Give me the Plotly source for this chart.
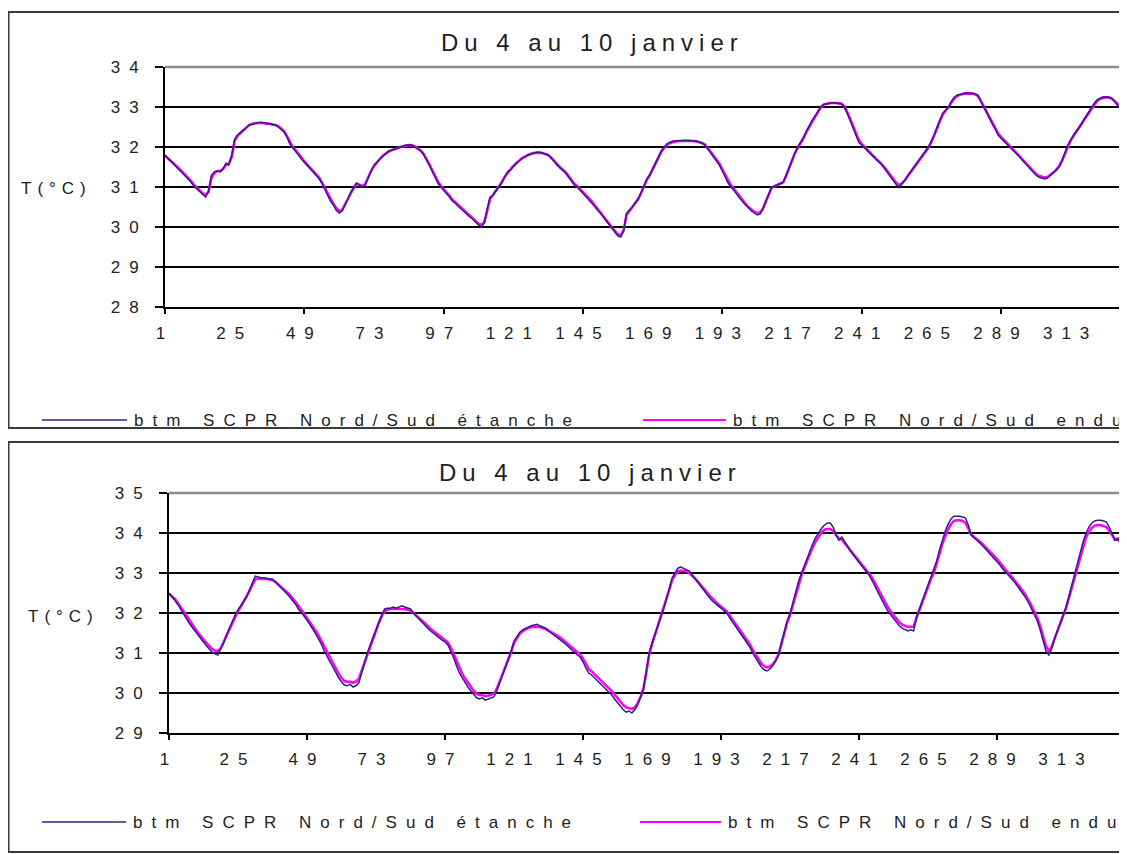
import plotly.graph_objects as go

# ---------------------------------------
# DATA
# ---------------------------------------
top_etanche = [
    31.80, 31.72, 31.65, 31.58, 31.50, 31.42, 31.35, 31.28, 31.20, 31.12,
    31.02, 30.95, 30.88, 30.80, 30.75, 30.90, 31.30, 31.38, 31.40, 31.38,
    31.45, 31.60, 31.55, 31.80, 32.20, 32.30, 32.35, 32.42, 32.48, 32.55,
    32.56, 32.58, 32.60, 32.62, 32.60, 32.60, 32.58, 32.56, 32.55, 32.50,
    32.45, 32.38, 32.25, 32.08, 31.98, 31.90, 31.80, 31.70, 31.62, 31.55,
    31.45, 31.38, 31.30, 31.22, 31.10, 30.95, 30.80, 30.65, 30.55, 30.42,
    30.35, 30.40, 30.55, 30.70, 30.85, 31.00, 31.10, 31.05, 31.00, 31.05,
    31.25, 31.40, 31.55, 31.62, 31.70, 31.78, 31.85, 31.90, 31.92, 31.95,
    31.98, 32.00, 32.02, 32.05, 32.05, 32.05, 32.00, 31.95, 31.90, 31.82,
    31.70, 31.55, 31.40, 31.25, 31.10, 31.00, 30.92, 30.85, 30.75, 30.65,
    30.60, 30.52, 30.45, 30.40, 30.32, 30.25, 30.20, 30.12, 30.05, 30.00,
    30.10, 30.45, 30.75, 30.80, 30.90, 31.00, 31.10, 31.25, 31.38, 31.42,
    31.50, 31.60, 31.65, 31.70, 31.75, 31.80, 31.82, 31.85, 31.87, 31.87,
    31.85, 31.82, 31.80, 31.72, 31.65, 31.55, 31.48, 31.42, 31.35, 31.25,
    31.15, 31.05, 31.00, 30.92, 30.85, 30.78, 30.70, 30.62, 30.52, 30.42,
    30.35, 30.25, 30.15, 30.05, 29.95, 29.85, 29.78, 29.75, 29.90, 30.35,
    30.42, 30.50, 30.60, 30.70, 30.85, 31.05, 31.20, 31.30, 31.45, 31.62,
    31.78, 31.90, 32.00, 32.08, 32.12, 32.15, 32.15, 32.15, 32.16, 32.17,
    32.17, 32.16, 32.15, 32.15, 32.12, 32.10, 32.05, 31.95, 31.85, 31.75,
    31.65, 31.55, 31.40, 31.25, 31.10, 31.00, 30.92, 30.82, 30.72, 30.62,
    30.55, 30.48, 30.40, 30.35, 30.30, 30.32, 30.45, 30.65, 30.85, 31.00,
    31.02, 31.05, 31.08, 31.12, 31.30, 31.50, 31.70, 31.85, 32.00, 32.12,
    32.25, 32.40, 32.55, 32.68, 32.78, 32.90, 33.02, 33.07, 33.08, 33.10,
    33.10, 33.10, 33.08, 33.08, 33.00, 32.85, 32.68, 32.50, 32.30, 32.12,
    32.05, 31.98, 31.90, 31.82, 31.75, 31.68, 31.62, 31.55, 31.45, 31.35,
    31.25, 31.15, 31.05, 31.00, 31.08, 31.18, 31.30, 31.40, 31.50, 31.60,
    31.70, 31.80, 31.90, 32.00, 32.15, 32.30, 32.50, 32.70, 32.85, 32.92,
    33.00, 33.15, 33.25, 33.30, 33.32, 33.34, 33.35, 33.35, 33.35, 33.33,
    33.30, 33.15, 33.00, 32.85, 32.72, 32.58, 32.45, 32.30, 32.22, 32.15,
    32.08, 32.00, 31.92, 31.85, 31.78, 31.70, 31.62, 31.55, 31.45, 31.38,
    31.30, 31.25, 31.22, 31.20, 31.22, 31.28, 31.35, 31.42, 31.50, 31.65,
    31.85, 32.05, 32.18, 32.30, 32.40, 32.50, 32.62, 32.75, 32.85, 32.98,
    33.08, 33.17, 33.22, 33.25, 33.25, 33.25, 33.22, 33.15, 33.05, 33.00,
]

top_enduit = [
    31.78, 31.72, 31.66, 31.60, 31.52, 31.45, 31.38, 31.30, 31.22, 31.15,
    31.05, 30.98, 30.90, 30.84, 30.80, 30.88, 31.22, 31.35, 31.40, 31.40,
    31.45, 31.55, 31.58, 31.75, 32.15, 32.28, 32.35, 32.42, 32.50, 32.55,
    32.58, 32.60, 32.60, 32.60, 32.60, 32.58, 32.58, 32.56, 32.55, 32.52,
    32.47, 32.40, 32.28, 32.12, 32.00, 31.92, 31.82, 31.72, 31.64, 31.56,
    31.48, 31.40, 31.32, 31.24, 31.12, 30.98, 30.84, 30.70, 30.58, 30.47,
    30.40, 30.42, 30.55, 30.70, 30.85, 30.98, 31.08, 31.06, 31.02, 31.08,
    31.25, 31.40, 31.52, 31.62, 31.70, 31.78, 31.84, 31.88, 31.92, 31.95,
    31.98, 32.00, 32.02, 32.03, 32.05, 32.04, 32.02, 31.97, 31.92, 31.84,
    31.72, 31.58, 31.43, 31.28, 31.14, 31.03, 30.95, 30.87, 30.78, 30.68,
    30.62, 30.55, 30.48, 30.42, 30.35, 30.28, 30.22, 30.15, 30.08, 30.05,
    30.12, 30.40, 30.70, 30.80, 30.90, 31.00, 31.12, 31.25, 31.36, 31.44,
    31.52, 31.60, 31.66, 31.72, 31.76, 31.80, 31.83, 31.85, 31.86, 31.86,
    31.85, 31.83, 31.80, 31.74, 31.67, 31.58, 31.50, 31.44, 31.37, 31.28,
    31.18, 31.08, 31.02, 30.95, 30.88, 30.80, 30.72, 30.64, 30.55, 30.45,
    30.38, 30.28, 30.18, 30.08, 29.98, 29.90, 29.82, 29.80, 29.92, 30.30,
    30.40, 30.50, 30.60, 30.70, 30.85, 31.02, 31.18, 31.30, 31.45, 31.60,
    31.75, 31.88, 31.98, 32.06, 32.10, 32.13, 32.14, 32.15, 32.15, 32.16,
    32.16, 32.16, 32.15, 32.14, 32.12, 32.10, 32.06, 31.98, 31.88, 31.78,
    31.68, 31.58, 31.44, 31.30, 31.15, 31.04, 30.95, 30.85, 30.76, 30.66,
    30.58, 30.50, 30.44, 30.38, 30.35, 30.36, 30.46, 30.64, 30.84, 30.98,
    31.02, 31.05, 31.08, 31.12, 31.28, 31.48, 31.68, 31.84, 31.98, 32.10,
    32.22, 32.38, 32.52, 32.65, 32.76, 32.88, 33.00, 33.06, 33.08, 33.10,
    33.10, 33.10, 33.10, 33.08, 33.02, 32.88, 32.72, 32.54, 32.35, 32.18,
    32.08, 32.00, 31.93, 31.85, 31.78, 31.70, 31.64, 31.57, 31.48, 31.38,
    31.28, 31.18, 31.10, 31.05, 31.10, 31.18, 31.28, 31.38, 31.48, 31.58,
    31.68, 31.78, 31.88, 31.98, 32.12, 32.28, 32.47, 32.66, 32.82, 32.92,
    33.00, 33.12, 33.22, 33.28, 33.31, 33.33, 33.34, 33.34, 33.33, 33.32,
    33.28, 33.16, 33.02, 32.88, 32.75, 32.62, 32.48, 32.34, 32.25, 32.17,
    32.10, 32.02, 31.95, 31.88, 31.80, 31.72, 31.65, 31.57, 31.48, 31.40,
    31.33, 31.28, 31.25, 31.24, 31.25, 31.30, 31.36, 31.43, 31.52, 31.65,
    31.82, 32.02, 32.16, 32.28, 32.38, 32.48, 32.60, 32.72, 32.83, 32.95,
    33.05, 33.14, 33.20, 33.23, 33.24, 33.24, 33.22, 33.16, 33.08, 33.02,
]

bot_etanche = [
    32.50, 32.42, 32.32, 32.22, 32.10, 31.98, 31.85, 31.75, 31.65, 31.55,
    31.45, 31.35, 31.25, 31.18, 31.10, 31.02, 30.98, 30.95, 31.10, 31.25,
    31.45, 31.62, 31.78, 31.95, 32.08, 32.18, 32.30, 32.40, 32.58, 32.75,
    32.92, 32.90, 32.88, 32.88, 32.86, 32.85, 32.85, 32.78, 32.70, 32.62,
    32.55, 32.48, 32.40, 32.32, 32.22, 32.10, 32.02, 31.92, 31.82, 31.72,
    31.60, 31.48, 31.35, 31.22, 31.05, 30.90, 30.78, 30.65, 30.50, 30.38,
    30.28, 30.20, 30.18, 30.22, 30.15, 30.18, 30.25, 30.50, 30.78, 31.00,
    31.20, 31.40, 31.60, 31.78, 31.95, 32.10, 32.12, 32.12, 32.15, 32.12,
    32.15, 32.18, 32.15, 32.12, 32.10, 32.00, 31.92, 31.85, 31.78, 31.70,
    31.62, 31.55, 31.50, 31.45, 31.38, 31.32, 31.28, 31.20, 31.05, 30.88,
    30.68, 30.50, 30.38, 30.25, 30.15, 30.05, 29.95, 29.88, 29.85, 29.88,
    29.82, 29.85, 29.88, 29.90, 30.05, 30.25, 30.45, 30.62, 30.80, 31.05,
    31.30, 31.42, 31.52, 31.58, 31.62, 31.65, 31.68, 31.70, 31.72, 31.68,
    31.65, 31.62, 31.55, 31.50, 31.45, 31.40, 31.35, 31.28, 31.22, 31.15,
    31.10, 31.02, 30.95, 30.90, 30.78, 30.62, 30.50, 30.45, 30.38, 30.32,
    30.25, 30.18, 30.10, 30.02, 29.95, 29.85, 29.75, 29.65, 29.58, 29.52,
    29.55, 29.50, 29.58, 29.70, 29.88, 30.10, 30.55, 31.00, 31.25, 31.45,
    31.68, 31.90, 32.10, 32.35, 32.62, 32.88, 33.00, 33.12, 33.15, 33.12,
    33.10, 33.05, 32.95, 32.85, 32.75, 32.68, 32.58, 32.48, 32.38, 32.30,
    32.25, 32.18, 32.12, 32.05, 32.00, 31.88, 31.78, 31.65, 31.55, 31.45,
    31.35, 31.25, 31.15, 31.00, 30.88, 30.75, 30.65, 30.58, 30.55, 30.60,
    30.68, 30.80, 30.95, 31.25, 31.55, 31.80, 31.98, 32.25, 32.55, 32.80,
    33.00, 33.20, 33.40, 33.58, 33.75, 33.90, 34.02, 34.12, 34.20, 34.25,
    34.25, 34.15, 33.95, 33.82, 33.90, 33.78, 33.65, 33.55, 33.45, 33.35,
    33.25, 33.15, 33.08, 33.00, 32.88, 32.75, 32.60, 32.45, 32.30, 32.18,
    32.05, 31.95, 31.85, 31.75, 31.68, 31.62, 31.58, 31.55, 31.58, 31.55,
    31.90, 32.10, 32.30, 32.48, 32.68, 32.90, 33.05, 33.30, 33.58, 33.85,
    34.05, 34.22, 34.35, 34.42, 34.42, 34.42, 34.40, 34.38, 34.20, 33.95,
    33.88, 33.82, 33.75, 33.68, 33.60, 33.52, 33.45, 33.38, 33.30, 33.20,
    33.10, 33.02, 32.95, 32.85, 32.78, 32.68, 32.58, 32.50, 32.38, 32.25,
    32.10, 31.95, 31.80, 31.58, 31.30, 31.05, 30.95, 31.10, 31.35, 31.55,
    31.72, 31.95, 32.15, 32.42, 32.70, 32.95, 33.25, 33.55, 33.80, 34.00,
    34.15, 34.25, 34.30, 34.32, 34.32, 34.30, 34.28, 34.15, 33.98, 33.82,
    33.85, 33.72, 33.55, 33.45,
]

bot_enduit = [
    32.48, 32.42, 32.35, 32.26, 32.15, 32.04, 31.92, 31.82, 31.72, 31.62,
    31.52, 31.42, 31.33, 31.25, 31.18, 31.10, 31.06, 31.05, 31.12, 31.28,
    31.45, 31.60, 31.76, 31.92, 32.05, 32.16, 32.28, 32.40, 32.55, 32.70,
    32.84, 32.86, 32.86, 32.86, 32.85, 32.84, 32.82, 32.78, 32.72, 32.65,
    32.58, 32.52, 32.45, 32.37, 32.28, 32.18, 32.08, 31.98, 31.88, 31.78,
    31.67, 31.56, 31.44, 31.30, 31.15, 31.00, 30.87, 30.74, 30.60, 30.48,
    30.38, 30.30, 30.28, 30.28, 30.26, 30.28, 30.35, 30.55, 30.80, 31.00,
    31.18, 31.38, 31.58, 31.76, 31.92, 32.05, 32.08, 32.10, 32.10, 32.10,
    32.10, 32.10, 32.10, 32.08, 32.06, 32.00, 31.94, 31.88, 31.82, 31.75,
    31.68, 31.60, 31.55, 31.50, 31.44, 31.38, 31.32, 31.26, 31.14, 30.98,
    30.80, 30.62, 30.48, 30.36, 30.25, 30.14, 30.05, 29.98, 29.95, 29.95,
    29.92, 29.93, 29.95, 29.98, 30.10, 30.28, 30.46, 30.62, 30.80, 31.02,
    31.25, 31.38, 31.48, 31.55, 31.60, 31.63, 31.65, 31.66, 31.66, 31.65,
    31.63, 31.60, 31.56, 31.52, 31.48, 31.44, 31.39, 31.33, 31.27, 31.21,
    31.15, 31.08, 31.02, 30.96, 30.86, 30.72, 30.60, 30.54, 30.47, 30.40,
    30.34, 30.27, 30.20, 30.12, 30.05, 29.96, 29.87, 29.78, 29.70, 29.64,
    29.62, 29.60, 29.64, 29.74, 29.90, 30.10, 30.50, 30.95, 31.22, 31.44,
    31.66, 31.88, 32.08, 32.32, 32.58, 32.82, 32.95, 33.04, 33.06, 33.05,
    33.04, 33.00, 32.94, 32.86, 32.78, 32.70, 32.62, 32.52, 32.43, 32.35,
    32.29, 32.22, 32.16, 32.10, 32.04, 31.94, 31.84, 31.72, 31.62, 31.52,
    31.42, 31.32, 31.22, 31.08, 30.96, 30.84, 30.74, 30.67, 30.64, 30.66,
    30.72, 30.82, 30.96, 31.22, 31.50, 31.76, 31.95, 32.20, 32.48, 32.74,
    32.94, 33.14, 33.33, 33.50, 33.66, 33.80, 33.92, 34.02, 34.08, 34.10,
    34.10, 34.05, 33.95, 33.86, 33.84, 33.76, 33.66, 33.57, 33.48, 33.39,
    33.30, 33.21, 33.13, 33.05, 32.94, 32.82, 32.68, 32.54, 32.40, 32.27,
    32.15, 32.04, 31.94, 31.85, 31.77, 31.71, 31.67, 31.65, 31.66, 31.66,
    31.88, 32.08, 32.27, 32.45, 32.64, 32.85, 33.00, 33.22, 33.48, 33.74,
    33.94, 34.10, 34.22, 34.30, 34.32, 34.32, 34.30, 34.26, 34.12, 33.96,
    33.90, 33.85, 33.79, 33.72, 33.65, 33.57, 33.50, 33.43, 33.35, 33.26,
    33.16, 33.08, 33.00, 32.91, 32.83, 32.74, 32.64, 32.55, 32.44, 32.32,
    32.18, 32.03, 31.88, 31.68, 31.42, 31.18, 31.05, 31.15, 31.36, 31.55,
    31.72, 31.93, 32.12, 32.38, 32.64, 32.88, 33.16, 33.45, 33.70, 33.90,
    34.04, 34.13, 34.18, 34.20, 34.20, 34.18, 34.15, 34.06, 33.94, 33.84,
    33.86, 33.76, 33.60, 33.50,
]

x_labels = ["1", "25", "49", "73", "97", "121", "145", "169",
            "193", "217", "241", "265", "289", "313"]
top_y_ticks = [28, 29, 30, 31, 32, 33, 34]
bot_y_ticks = [29, 30, 31, 32, 33, 34, 35]

chart_title = "Du 4 au 10 janvier"
y_title = "T(°C)"
name_etanche = "btm SCPR Nord/Sud étanche"
name_enduit = "btm SCPR Nord/Sud enduit"

# ---------------------------------------
# STYLE
# ---------------------------------------
W, H = 1127, 854
OFF = 8  # the page body margin pushes the figure 8px right and down
NAVY = "#26267a"
MAGENTA = "#ff00ff"
INK = "#1e1e1e"
FONT = "Liberation Sans, Arial, sans-serif"


def spaced(text, gap):
    # the old Excel export draws every glyph far apart
    return f'<span style="letter-spacing:{gap}px">{text}</span>'


# screen pixel -> paper fraction
def fx(px):
    return (px - OFF) / W


def fy(py):
    return 1 - (py - OFF) / H


x_vals = [int(v) for v in x_labels]
x_marks = x_vals[::2]

fig = go.Figure()

# magenta underneath, navy on top (gives the purple look of the scan)
panels = [
    (top_etanche, top_enduit, "x", "y"),
    (bot_etanche, bot_enduit, "x2", "y2"),
]
for etanche, enduit, xa, ya in panels:
    fig.add_trace(go.Scatter(
        x=list(range(1, len(enduit) + 1)), y=enduit, mode="lines",
        line=dict(color=MAGENTA, width=2.6), name=name_enduit,
        xaxis=xa, yaxis=ya, showlegend=False
    ))
    fig.add_trace(go.Scatter(
        x=list(range(1, len(etanche) + 1)), y=etanche, mode="lines",
        line=dict(color=NAVY, width=1.5), name=name_etanche,
        xaxis=xa, yaxis=ya, showlegend=False
    ))

# empty traces so the tick-mark overlay axes get drawn
fig.add_trace(go.Scatter(x=[], y=[], xaxis="x3", yaxis="y", showlegend=False))
fig.add_trace(go.Scatter(x=[], y=[], xaxis="x4", yaxis="y2", showlegend=False))

tick_font = dict(family=FONT, size=17, color=INK)


def x_axis(domain, rng, anchor):
    return dict(
        domain=domain, range=rng, anchor=anchor, autorange=False,
        automargin=False,
        tickmode="array", tickvals=x_vals,
        ticktext=[spaced(t, 9) for t in x_labels],
        ticks="", showgrid=False, zeroline=False,
        showline=True, linecolor="black", linewidth=2,
        tickfont=tick_font, ticklabelstandoff=10
    )


def mark_axis(over, rng, anchor):
    return dict(
        overlaying=over, range=rng, anchor=anchor, autorange=False,
        automargin=False,
        tickmode="array", tickvals=x_marks, ticks="outside",
        ticklen=6, tickwidth=1.5, tickcolor="black",
        showticklabels=False, showgrid=False, zeroline=False, showline=False
    )


def y_axis(domain, ticks, anchor):
    return dict(
        domain=domain, range=[ticks[0], ticks[-1]], anchor=anchor,
        autorange=False, automargin=False,
        tickmode="array", tickvals=ticks,
        ticktext=[spaced(str(t), 9) for t in ticks],
        ticks="outside", ticklen=8, tickwidth=1.5, tickcolor="black",
        showgrid=True, gridcolor="black", gridwidth=1.5, zeroline=False,
        showline=True, linecolor="black", linewidth=2,
        tickfont=tick_font, ticklabelstandoff=4
    )


top_range = [1, 330]
bot_range = [1, 334.2]

fig.update_layout(
    width=W, height=H, autosize=False,
    margin=dict(l=0, r=0, t=0, b=0, pad=0, autoexpand=False),
    paper_bgcolor="white", plot_bgcolor="white",
    font=dict(family=FONT, color=INK),
    showlegend=False,
    xaxis=x_axis([fx(165), fx(1120)], top_range, "y"),
    xaxis2=x_axis([fx(169), fx(1127)], bot_range, "y2"),
    xaxis3=mark_axis("x", top_range, "y"),
    xaxis4=mark_axis("x2", bot_range, "y2"),
    yaxis=y_axis([fy(307), fy(67)], top_y_ticks, "x"),
    yaxis2=y_axis([fy(733), fy(493)], bot_y_ticks, "x2"),
)

# ---------------------------------------
# FRAMES, TITLES, LEGENDS
# ---------------------------------------
shapes = [
    dict(type="rect", xref="paper", yref="paper",
         x0=fx(8.5), x1=fx(1120), y0=fy(428), y1=fy(12),
         line=dict(color="#3a3a3a", width=2)),
    dict(type="rect", xref="paper", yref="paper",
         x0=fx(8.5), x1=fx(1145), y0=fy(852), y1=fy(442),
         line=dict(color="#3a3a3a", width=2)),
    # grey top edge of each plot area
    dict(type="line", xref="x domain", yref="y domain",
         x0=0, x1=1, y0=1, y1=1, line=dict(color="#8a8a8a", width=2.5)),
    dict(type="line", xref="x2 domain", yref="y2 domain",
         x0=0, x1=1, y0=1, y1=1, line=dict(color="#8a8a8a", width=2.5)),
]

annotations = []
boxes = [
    # title (x, y), y label (x, y), legend row y, legend line ends
    dict(title=(593, 42), ylab=(56, 188), leg_y=420, leg1=(42, 127), leg2=(643, 726)),
    dict(title=(590, 472), ylab=(63, 616), leg_y=822, leg1=(42, 126), leg2=(640, 721)),
]
for b in boxes:
    annotations.append(dict(
        x=fx(b["title"][0]), y=fy(b["title"][1]), xref="paper", yref="paper",
        text=spaced(chart_title, 6), showarrow=False,
        xanchor="center", yanchor="middle",
        font=dict(family=FONT, size=24, color=INK)
    ))
    annotations.append(dict(
        x=fx(b["ylab"][0]), y=fy(b["ylab"][1]), xref="paper", yref="paper",
        text=spaced(y_title, 6), showarrow=False,
        xanchor="center", yanchor="middle",
        font=dict(family=FONT, size=17, color=INK)
    ))
    for (x0, x1), color, width, label in [
        (b["leg1"], NAVY, 1.6, name_etanche),
        (b["leg2"], MAGENTA, 2.0, name_enduit),
    ]:
        shapes.append(dict(
            type="line", xref="paper", yref="paper",
            x0=fx(x0), x1=fx(x1), y0=fy(b["leg_y"]), y1=fy(b["leg_y"]),
            line=dict(color=color, width=width)
        ))
        annotations.append(dict(
            x=fx(x1 + 5), y=fy(b["leg_y"]), xref="paper", yref="paper",
            text=spaced(label, 9), showarrow=False,
            xanchor="left", yanchor="middle",
            font=dict(family=FONT, size=17, color=INK)
        ))

fig.update_layout(shapes=shapes, annotations=annotations)

fig.write_html("out.html")
